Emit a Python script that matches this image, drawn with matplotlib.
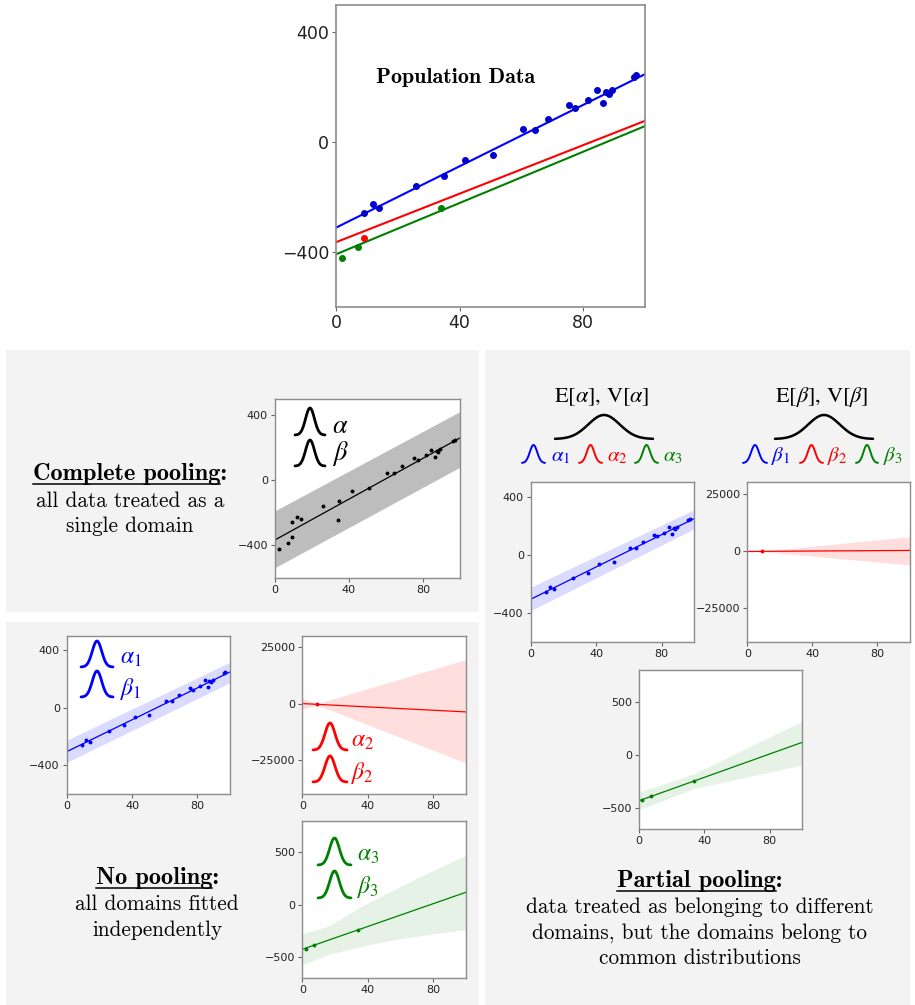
import numpy as np
import matplotlib
matplotlib.use("Agg")
import matplotlib.pyplot as plt
from matplotlib.patches import Rectangle

plt.rcParams["mathtext.fontset"] = "stix"

# ------------------------------------------------------------
# Data
# ------------------------------------------------------------
blue_x = [9.1, 12.1, 14.0, 25.9, 34.8, 41.8, 50.7, 60.6, 64.5, 68.6,
          75.4, 77.3, 81.4, 84.4, 86.4, 87.4, 88.3, 89.3, 96.3, 97.2]
blue_y = [-258, -225, -238, -159, -124, -64, -48, 48, 45, 86,
          137, 126, 153, 189, 142, 182, 175, 190, 239, 245]
red_x = [9.1]
red_y = [-349]
green_x = [2.1, 7.2, 33.9]
green_y = [-421, -383, -241]

all_x = blue_x + red_x + green_x
all_y = blue_y + red_y + green_y

line_x = [0, 100]

# population lines
pop_blue = [-311, 248]
pop_red = [-364, 78]
pop_green = [-408, 59]

# complete pooling fit
cp_line = [-366, 261]
cp_upper = [-187, 423]
cp_lower = [-536, 81]

# no pooling fits
np_blue_line = [-306, 248]
np_blue_upper = [-226, 316]
np_blue_lower = [-380, 173]

np_red_line = [-14, -3700]
np_red_band_x = [0, 9.1, 100]
np_red_upper = [2350, -50, 19500]
np_red_lower = [-2500, -650, -26300]

np_green_line = [-424, 119]
np_green_band_x = [0, 16, 36.6, 57, 77.5, 100]
np_green_upper = [-277, -204, -10, 150, 310, 472]
np_green_lower = [-572, -472, -393, -330, -283, -236]

# partial pooling fits
pp_blue_line = [-307, 250]
pp_blue_upper = [-224, 312]
pp_blue_lower = [-386, 180]

pp_red_line = [-364, 78]
pp_red_band_x = [0, 9.1, 100]
pp_red_upper = [0, -280, 6100]
pp_red_lower = [-700, -420, -6300]

pp_green_line = [-431, 119]
pp_green_band_x = [0, 34, 100]
pp_green_upper = [-350, -175, 319]
pp_green_lower = [-516, -315, -94]

xticks = [0, 40, 80]

BLUE = "#0000ff"
RED = "#ff0000"
GREEN = "#008000"
PANEL = "#f3f3f3"

W, H = 915, 1005
fig = plt.figure(figsize=(W / 100, H / 100), dpi=100)
fig.patch.set_facecolor("white")


def px_axes(x0, y0, x1, y1, zorder=1):
    """Axes placed by pixel box (top-left origin)."""
    return fig.add_axes([x0 / W, 1 - y1 / H, (x1 - x0) / W, (y1 - y0) / H],
                        zorder=zorder)


def style(ax, ylim, yticks, size, spine_lw=1.0):
    ax.set_xlim(0, 100)
    ax.set_ylim(*ylim)
    ax.set_xticks(xticks)
    ax.set_yticks(yticks)
    ax.tick_params(labelsize=size, colors="#666666", labelcolor="#222222",
                   length=3, width=0.8, pad=2)
    for s in ax.spines.values():
        s.set_color("#8c8c8c")
        s.set_linewidth(spine_lw)


# background panels
bg = px_axes(0, 0, W, H, zorder=-5)
bg.set_xlim(0, W)
bg.set_ylim(H, 0)
bg.axis("off")
for (x0, y0, x1, y1) in [(6, 350, 479, 612), (6, 622, 479, 1005),
                         (485, 350, 910, 1005)]:
    bg.add_patch(Rectangle((x0, y0), x1 - x0, y1 - y0, color=PANEL, lw=0))

# ------------------------------------------------------------
# Population data
# ------------------------------------------------------------
ax = px_axes(336, 5, 645, 307)
ax.plot(line_x, pop_blue, color=BLUE, lw=1.5)
ax.plot(line_x, pop_red, color=RED, lw=1.5)
ax.plot(line_x, pop_green, color=GREEN, lw=1.5)
ax.plot(blue_x, blue_y, "o", color="#0000cc", ms=4)
ax.plot(red_x, red_y, "o", color=RED, ms=4)
ax.plot(green_x, green_y, "o", color=GREEN, ms=4)
ax.text(38.6, 236, "Population Data", family="cmb10", fontsize=15.8,
        ha="center", va="center")
style(ax, (-600, 500), [-400, 0, 400], 12.5, spine_lw=1.2)

# ------------------------------------------------------------
# Complete pooling
# ------------------------------------------------------------
ax = px_axes(275, 399, 460, 578)
ax.fill_between(line_x, cp_lower, cp_upper, color="#bdbdbd", lw=0)
ax.plot(line_x, cp_line, color="black", lw=0.9)
ax.plot(all_x, all_y, "o", color="black", ms=1.8)
style(ax, (-600, 500), [-400, 0, 400], 8)

# ------------------------------------------------------------
# No pooling
# ------------------------------------------------------------
ax = px_axes(66.7, 635.7, 230, 794)
ax.fill_between(line_x, np_blue_lower, np_blue_upper, color=BLUE, alpha=0.14, lw=0)
ax.plot(line_x, np_blue_line, color=BLUE, lw=0.9)
ax.plot(blue_x, blue_y, "o", color=BLUE, ms=1.8)
style(ax, (-600, 500), [-400, 0, 400], 8)

ax = px_axes(302.3, 635.7, 466, 794)
ax.fill_between(np_red_band_x, np_red_lower, np_red_upper, color=RED, alpha=0.13, lw=0)
ax.plot(line_x, np_red_line, color=RED, lw=0.9)
ax.plot(red_x, red_y, "o", color=RED, ms=1.8)
style(ax, (-40000, 30000), [-25000, 0, 25000], 8)

ax = px_axes(302.3, 820.7, 466, 978.3)
ax.fill_between(np_green_band_x, np_green_lower, np_green_upper, color=GREEN, alpha=0.1, lw=0)
ax.plot(line_x, np_green_line, color=GREEN, lw=0.9)
ax.plot(green_x, green_y, "o", color=GREEN, ms=1.8)
style(ax, (-700, 800), [-500, 0, 500], 8)

# ------------------------------------------------------------
# Partial pooling
# ------------------------------------------------------------
ax = px_axes(530.7, 482.3, 694.3, 641.7)
ax.fill_between(line_x, pp_blue_lower, pp_blue_upper, color=BLUE, alpha=0.14, lw=0)
ax.plot(line_x, pp_blue_line, color=BLUE, lw=0.9)
ax.plot(blue_x, blue_y, "o", color=BLUE, ms=1.8)
style(ax, (-600, 500), [-400, 0, 400], 8)

ax = px_axes(747.3, 482.3, 910, 641.7)
ax.fill_between(pp_red_band_x, pp_red_lower, pp_red_upper, color=RED, alpha=0.13, lw=0)
ax.plot(line_x, pp_red_line, color=RED, lw=0.9)
ax.plot(red_x, red_y, "o", color=RED, ms=1.8)
style(ax, (-40000, 30000), [-25000, 0, 25000], 8)

ax = px_axes(639, 670, 802.3, 829.3)
ax.fill_between(pp_green_band_x, pp_green_lower, pp_green_upper, color=GREEN, alpha=0.1, lw=0)
ax.plot(line_x, pp_green_line, color=GREEN, lw=0.9)
ax.plot(green_x, green_y, "o", color=GREEN, ms=1.8)
style(ax, (-700, 800), [-500, 0, 500], 8)

# ------------------------------------------------------------
# Overlay: bells, symbols and captions (pixel coordinates)
# ------------------------------------------------------------
ov = px_axes(0, 0, W, H, zorder=10)
ov.set_xlim(0, W)
ov.set_ylim(H, 0)
ov.axis("off")
ov.patch.set_alpha(0)


def bell(x0, x1, base, peak, color, lw=1.8, sharp=2.4):
    t = np.linspace(-1, 1, 80)
    g = np.exp(-(sharp * t) ** 2)
    ov.plot(x0 + (t + 1) / 2 * (x1 - x0), base - g * (base - peak),
            color=color, lw=lw, solid_capstyle="round")


def sym(x, y, s, color="black", size=17):
    ov.text(x, y, s, color=color, fontsize=size, ha="left", va="baseline")


# complete pooling
bell(295, 325, 435, 408, "black", lw=2.0)
sym(332, 433, r"$\alpha$", size=19)
bell(295, 325, 466, 440, "black", lw=2.0)
sym(332, 460, r"$\beta$", size=19)

# no pooling
bell(81, 113, 667, 641, BLUE, lw=2.0)
sym(120, 664, r"$\alpha_1$", BLUE)
bell(81, 113, 697, 671, BLUE, lw=2.0)
sym(120, 695, r"$\beta_1$", BLUE)
bell(313, 347, 750, 723, RED, lw=2.0)
sym(351, 747, r"$\alpha_2$", RED)
bell(313, 347, 782, 756, RED, lw=2.0)
sym(351, 779, r"$\beta_2$", RED)
bell(318, 351, 865, 838, GREEN, lw=2.0)
sym(357, 861, r"$\alpha_3$", GREEN)
bell(318, 351, 898, 871, GREEN, lw=2.0)
sym(357, 893, r"$\beta_3$", GREEN)

# partial pooling hyperpriors
ov.text(602, 402, r"$\mathrm{E}[\alpha],\,\mathrm{V}[\alpha]$", fontsize=16,
        ha="center", va="baseline")
ov.text(822, 402, r"$\mathrm{E}[\beta],\,\mathrm{V}[\beta]$", fontsize=16,
        ha="center", va="baseline")
bell(555, 653, 439, 415, "black", lw=1.8, sharp=2.2)
bell(775, 873, 439, 415, "black", lw=1.8, sharp=2.2)
row = [(522, 545, BLUE, r"$\alpha_1$", 551), (579, 602, RED, r"$\alpha_2$", 607),
       (635, 658, GREEN, r"$\alpha_3$", 663),
       (743, 767, BLUE, r"$\beta_1$", 771), (800, 823, RED, r"$\beta_2$", 827),
       (856, 878, GREEN, r"$\beta_3$", 883)]
for x0, x1, c, s, tx in row:
    bell(x0, x1, 463, 445, c, lw=1.4, sharp=2.2)
    sym(tx, 461, s, c, size=15)

# captions
HEAD = dict(family="cmb10", fontsize=17.5, ha="center", va="baseline")
BODY = dict(family="cmr10", fontsize=15.3, ha="center", va="baseline")

fig.canvas.draw()
renderer = fig.canvas.get_renderer()


def heading(cx, y, label):
    t = ov.text(cx, y, label + ":", **HEAD)
    colon = ov.text(0, 0, ":", alpha=0, **HEAD)
    bb = t.get_window_extent(renderer)
    cw = colon.get_window_extent(renderer).width
    inv = ov.transData.inverted()
    (xa, _), (xb, _) = inv.transform([(bb.x0, 0), (bb.x1 - cw, 0)])
    ov.plot([xa, xb], [y + 3.5, y + 3.5], color="black", lw=1.1)


heading(130, 480, "Complete pooling")
ov.text(130, 507, "all data treated as a", **BODY)
ov.text(130, 532, "single domain", **BODY)

heading(157, 884, "No pooling")
ov.text(157, 910, "all domains fitted", **BODY)
ov.text(157, 936, "independently", **BODY)

heading(700, 887, "Partial pooling")
ov.text(700, 913, "data treated as belonging to different", **BODY)
ov.text(700, 939, "domains, but the domains belong to", **BODY)
ov.text(700, 964, "common distributions", **BODY)

fig.savefig("out.png", dpi=100)
